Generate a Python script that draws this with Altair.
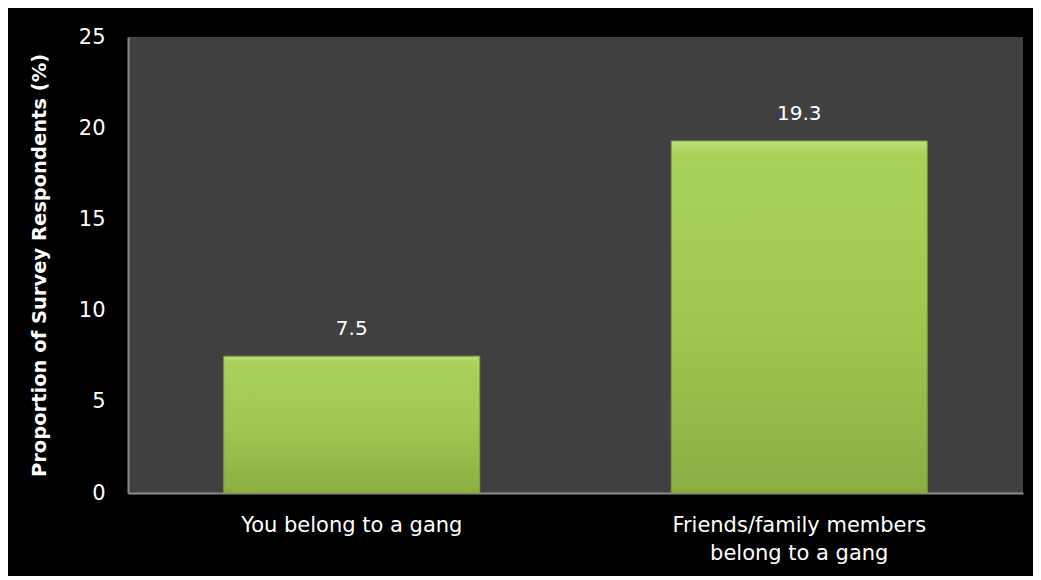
import altair as alt
import pandas as pd

categories = ["You belong to a gang", "Friends/family members\nbelong to a gang"]
values = [7.5, 19.3]
y_ticks = [0, 5, 10, 15, 20, 25]

df = pd.DataFrame({"category": categories, "value": values})

FONT = "DejaVu Sans"

x_enc = alt.X(
    "category:N",
    sort=categories,
    scale=alt.Scale(paddingInner=0.428, paddingOuter=0.214),
    axis=alt.Axis(
        title=None,
        labelAngle=0,
        labelExpr="split(datum.label, '\\n')",
        labelLineHeight=28,
        labelFontSize=21,
        labelColor="white",
        labelFont=FONT,
        labelPadding=21,
        labelLimit=500,
        ticks=False,
        domainColor="#8c8c8c",
        domainWidth=2,
        grid=False,
    ),
)

y_enc = alt.Y(
    "value:Q",
    scale=alt.Scale(domain=[0, 25], nice=False),
    axis=alt.Axis(
        title="Proportion of Survey Respondents (%)",
        values=y_ticks,
        labelFontSize=21,
        labelColor="white",
        labelFont=FONT,
        labelPadding=23,
        ticks=False,
        grid=False,
        domainColor="#8c8c8c",
        domainWidth=2,
        titleFont=FONT,
        titleFontSize=19.5,
        titleFontWeight="bold",
        titleColor="white",
        titleX=-89,
        titleY=228,
        titleAngle=-90,
        titleAlign="center",
        titleBaseline="middle",
        titleLimit=600,
    ),
)

bars = alt.Chart(df).mark_bar(
    color=alt.Gradient(
        gradient="linear",
        stops=[
            alt.GradientStop(color="#bfe07a", offset=0),
            alt.GradientStop(color="#a9d25a", offset=0.04),
            alt.GradientStop(color="#a0c850", offset=0.5),
            alt.GradientStop(color="#8aae43", offset=1),
        ],
        x1=0, x2=0, y1=0, y2=1,
    ),
    stroke="#7e9e3a",
    strokeWidth=1,
).encode(x=x_enc, y=y_enc)

labels = alt.Chart(df).mark_text(
    color="white",
    fontSize=20,
    font=FONT,
    baseline="middle",
    dy=-27,
).encode(x=alt.X("category:N", sort=categories), y="value:Q", text=alt.Text("value:Q", format=".1f"))

chart = (
    alt.layer(bars, labels)
    .properties(
        width=895,
        height=456,
        background="black",
        padding={"left": 120, "top": 29, "right": 10, "bottom": 83},
        autosize=alt.AutoSizeParams(type="none"),
    )
    .configure_view(fill="#404040", stroke=None)
)

chart.save("out.html", embed_options={"renderer": "svg", "actions": False})
